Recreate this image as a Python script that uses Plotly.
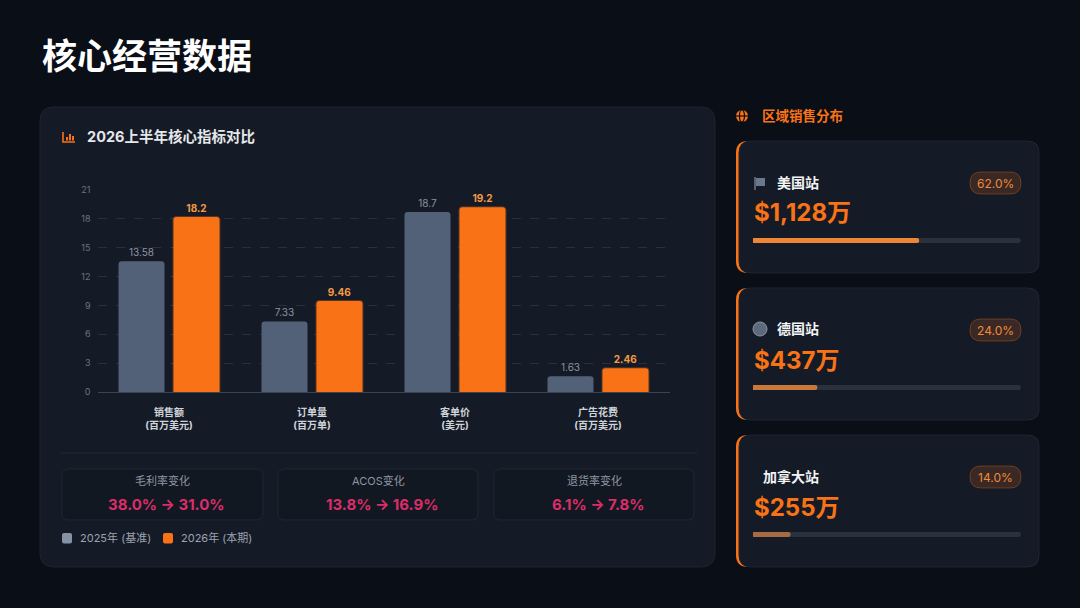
import plotly.graph_objects as go

W, H = 1080, 608

# ---- 数据 ----
cat_names = ["销售额", "订单量", "客单价", "广告花费"]
cat_units = ["(百万美元)", "(百万单)", "(美元)", "(百万美元)"]
values_2025 = [13.58, 7.33, 18.7, 1.63]
values_2026 = [18.2, 9.46, 19.2, 2.46]
series_names = ["2025年 (基准)", "2026年 (本期)"]
y_ticks = [0, 3, 6, 9, 12, 15, 18, 21]

kpi_names = ["毛利率变化", "ACOS变化", "退货率变化"]
kpi_before = ["38.0%", "13.8%", "6.1%"]
kpi_after = ["31.0%", "16.9%", "7.8%"]

regions = ["美国站", "德国站", "加拿大站"]
region_sales = [1128, 437, 255]  # 万美元
region_share = [62.0, 24.0, 14.0]

# ---- 样式 ----
BG = "#0a0e17"
PANEL = "#151b26"
GRAY_BAR = "#536178"
ORANGE = "#f97316"
FONT = "Inter, 'Noto Sans CJK SC', sans-serif"
fill_colors = ["#ef8633", "#c7783a", "#a66b43"]


def px(x):
    return x / W


def py(y):
    return 1 - y / H


def rrect(x0, y0, x1, y1, r):
    """圆角矩形路径(像素坐标 -> paper坐标)"""
    pts = [
        ("M", [(x0 + r, y0)]),
        ("L", [(x1 - r, y0)]),
        ("Q", [(x1, y0), (x1, y0 + r)]),
        ("L", [(x1, y1 - r)]),
        ("Q", [(x1, y1), (x1 - r, y1)]),
        ("L", [(x0 + r, y1)]),
        ("Q", [(x0, y1), (x0, y1 - r)]),
        ("L", [(x0, y0 + r)]),
        ("Q", [(x0, y0), (x0 + r, y0)]),
    ]
    s = ""
    for cmd, ps in pts:
        s += cmd + " ".join("%.5f,%.5f" % (px(a), py(b)) for a, b in ps) + " "
    return s + "Z"


def path_shape(x0, y0, x1, y1, r, fill, line=None, lw=0, layer="below"):
    return dict(type="path", xref="paper", yref="paper", path=rrect(x0, y0, x1, y1, r),
                fillcolor=fill, line=dict(color=line or fill, width=lw), layer=layer)


def rect(x0, y0, x1, y1, fill):
    return dict(type="rect", xref="paper", yref="paper", x0=px(x0), x1=px(x1), y0=py(y1), y1=py(y0),
                fillcolor=fill, line=dict(width=0), layer="above")


def text(x, y, s, size, color, xanchor="left"):
    return dict(x=px(x), y=py(y), xref="paper", yref="paper", text=s, showarrow=False,
                xanchor=xanchor, yanchor="middle", font=dict(size=size, color=color, family=FONT))


shapes = []
annotations = []

# 左侧面板
shapes.append(path_shape(40, 107, 715, 567, 14, PANEL, "#1c2330", 1))
# 图标: 柱状图
shapes.append(dict(type="path", xref="paper", yref="paper",
                   path="M%.5f,%.5f L%.5f,%.5f L%.5f,%.5f" % (px(63), py(132), px(63), py(142), px(75), py(142)),
                   line=dict(color=ORANGE, width=1.6), layer="above"))
for bx, top in [(66, 137), (69, 134), (72, 136)]:
    shapes.append(rect(bx, top, bx + 2, 140.5, ORANGE))
annotations.append(text(85, 137, "<b>2026上半年核心指标对比</b>", 14.5, "#e5e7eb"))
annotations.append(text(40, 56, "<b>核心经营数据</b>", 35, "#ffffff"))

# 分隔线
shapes.append(dict(type="line", xref="paper", yref="paper", x0=px(60), x1=px(697), y0=py(453), y1=py(453),
                   line=dict(color="#232b38", width=1)))

# KPI 卡片
kpi_x = [(62, 263), (278, 478), (494, 694)]
for (x0, x1), name, b, a in zip(kpi_x, kpi_names, kpi_before, kpi_after):
    shapes.append(path_shape(x0, 469, x1, 520, 7, "#121822", "#1f2733", 1))
    cx = (x0 + x1) / 2
    annotations.append(text(cx, 481, name, 11, "#8f96a3", "center"))
    annotations.append(text(cx + 4, 504, "<b>%s → %s</b>" % (b, a), 15, "#db2d69", "center"))

# 图例
legend_items = [(62, "#8592a6"), (163, ORANGE)]
for (lx, col), nm in zip(legend_items, series_names):
    shapes.append(path_shape(lx, 533, lx + 10, 543.5, 2, col, layer="above"))
    annotations.append(text(lx + 16, 538, nm, 11, "#9ca3af"))

# 右侧标题
shapes.append(dict(type="circle", xref="paper", yref="paper", x0=px(736), x1=px(748), y0=py(122), y1=py(110),
                   fillcolor=ORANGE, line=dict(width=0)))
shapes.append(dict(type="circle", xref="paper", yref="paper", x0=px(739.5), x1=px(744.5), y0=py(122), y1=py(110),
                   line=dict(color=BG, width=1.2)))
shapes.append(dict(type="line", xref="paper", yref="paper", x0=px(736), x1=px(748), y0=py(116), y1=py(116),
                   line=dict(color=BG, width=1.2)))
annotations.append(text(760, 116, "<b>区域销售分布</b>", 13.5, ORANGE))

# 区域卡片
card_tops = [141, 288, 435]
for i, (top, name, sales, share) in enumerate(zip(card_tops, regions, region_sales, region_share)):
    bot = top + 132
    shapes.append(path_shape(736, top, 1039, bot, 12, ORANGE))
    shapes.append(path_shape(739, top, 1039, bot, 12, PANEL, "#1c2330", 1))
    name_x = 775
    if i == 0:
        shapes.append(dict(type="line", xref="paper", yref="paper", x0=px(755), x1=px(755), y0=py(top + 49),
                           y1=py(top + 36), line=dict(color="#6b778a", width=1.5), layer="above"))
        shapes.append(rect(756, top + 37, 765, top + 45, "#6b778a"))
    elif i == 1:
        shapes.append(dict(type="circle", xref="paper", yref="paper", x0=px(753), x1=px(767),
                           y0=py(top + 48), y1=py(top + 34), fillcolor="#5d6a7e",
                           line=dict(color="#8a95a6", width=1), layer="above"))
    else:
        name_x = 761
    annotations.append(text(name_x, top + 41, "<b>%s</b>" % name, 14, "#f3f4f6"))
    annotations.append(text(752, top + 72, "<b>$%s万</b>" % format(sales, ","), 24, ORANGE))
    shapes.append(path_shape(970, top + 31, 1021, top + 53, 11, "rgba(249,115,22,0.16)",
                             "rgba(249,115,22,0.32)", 1))
    annotations.append(text(995.5, top + 42, "%.1f%%" % share, 12, "#f08a3c", "center"))
    cy = top + 99.5
    shapes.append(path_shape(753, cy - 2.5, 1021, cy + 2.5, 2.5, "#2a313d"))

# ---- 图形 ----
fig = go.Figure()
x_labels = ["<b>%s</b><br><b>%s</b>" % (n, u) for n, u in zip(cat_names, cat_units)]

fig.add_trace(go.Bar(
    x=x_labels, y=values_2025, name=series_names[0], showlegend=False,
    marker=dict(color=GRAY_BAR, cornerradius=3, line=dict(width=0)),
    text=[str(v) for v in values_2025], textposition="outside",
    textfont=dict(size=10, color="#8b94a3"), cliponaxis=False, hoverinfo="skip",
))
fig.add_trace(go.Bar(
    x=x_labels, y=values_2026, name=series_names[1], showlegend=False,
    marker=dict(color=ORANGE, cornerradius=3, line=dict(color="rgba(249,115,22,0.3)", width=2)),
    text=["<b>%s</b>" % v for v in values_2026], textposition="outside",
    textfont=dict(size=10, color="#f59a45"), cliponaxis=False, hoverinfo="skip",
))

layout_axes = {}
for i, (top, share) in enumerate(zip(card_tops, region_share)):
    k = i + 2
    cy = top + 99.5
    fig.add_trace(go.Bar(
        x=[share], y=[0], orientation="h", width=1, showlegend=False, hoverinfo="skip",
        marker=dict(color=fill_colors[i], cornerradius=2, line=dict(width=0)),
        xaxis="x%d" % k, yaxis="y%d" % k,
    ))
    layout_axes["xaxis%d" % k] = dict(domain=[px(753), px(1021)], range=[0, 100], visible=False,
                                      fixedrange=True, anchor="y%d" % k, automargin=False)
    layout_axes["yaxis%d" % k] = dict(domain=[py(cy + 2.5), py(cy - 2.5)], range=[-0.5, 0.5],
                                      visible=False, fixedrange=True, anchor="x%d" % k, automargin=False)

fig.update_layout(
    width=W, height=H, margin=dict(l=0, r=0, t=0, b=0, pad=0),
    paper_bgcolor=BG, plot_bgcolor="rgba(0,0,0,0)",
    font=dict(family=FONT, color="#9ca3af"),
    barmode="group", bargap=0.231, bargroupgap=0.164,
    xaxis=dict(domain=[px(97.5), px(669.5)], showgrid=False, showline=False, ticks="",
               tickfont=dict(size=10, color="#cfd3da"), ticklabelstandoff=13, fixedrange=True,
               automargin=False),
    yaxis=dict(domain=[py(392), py(190)], range=[0, 21], tickvals=y_ticks,
               gridcolor="#283040", griddash="dash", gridwidth=1,
               zeroline=True, zerolinecolor="#3a4352", zerolinewidth=1,
               tickfont=dict(size=9, color="#6b7280"), ticklabelstandoff=6, fixedrange=True,
               automargin=False),
    showlegend=False,
    shapes=shapes, annotations=annotations,
    **layout_axes,
)

fig.write_html("out.html", config={"displayModeBar": False},
               post_script="document.body.style.margin='0';")
